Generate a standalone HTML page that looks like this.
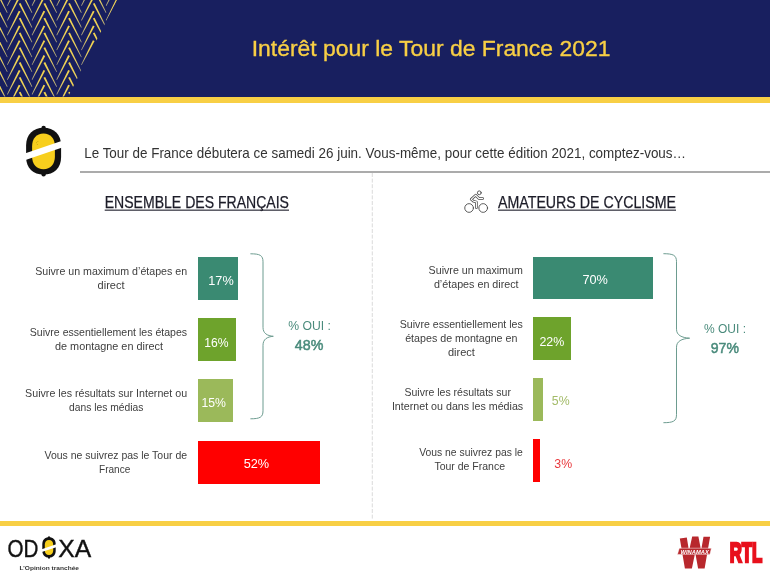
<!DOCTYPE html>
<html lang="fr">
<head>
<meta charset="utf-8">
<title>Intérêt pour le Tour de France 2021</title>
<style>
html,body{margin:0;padding:0;background:#fff;}
body{width:770px;height:576px;position:relative;overflow:hidden;font-family:"Liberation Sans",sans-serif;}
.hdr{position:absolute;left:0;top:0;width:770px;height:96.5px;background:#181f5f;}
.hline{position:absolute;left:0;top:96.5px;width:770px;height:6px;background:#f8cf45;}
.fline{position:absolute;left:0;top:520.7px;width:770px;height:5.1px;background:#f8cf45;}
.qline{position:absolute;left:80px;top:171px;width:690px;height:2px;background:#ababab;}
.bar{position:absolute;}
svg{position:absolute;left:0;top:0;}
svg text{font-family:"Liberation Sans",sans-serif;white-space:pre;}
</style>
</head>
<body>
<div class="hdr"></div>
<div class="hline"></div>
<div class="qline"></div>
<div class="fline"></div>

<!-- bars: left chart -->
<div class="bar" style="left:198px;top:256.5px;width:39.9px;height:43.2px;background:#3a8a72"></div>
<div class="bar" style="left:198px;top:318.1px;width:37.8px;height:42.9px;background:#6ea32c"></div>
<div class="bar" style="left:198px;top:379.2px;width:34.9px;height:42.7px;background:#9bb95a"></div>
<div class="bar" style="left:198px;top:440.8px;width:122.2px;height:42.9px;background:#ff0000"></div>
<!-- bars: right chart -->
<div class="bar" style="left:533.3px;top:256.7px;width:119.9px;height:42px;background:#3a8a72"></div>
<div class="bar" style="left:533.3px;top:317.3px;width:37.9px;height:42.3px;background:#6ea32c"></div>
<div class="bar" style="left:533.3px;top:378px;width:9.6px;height:42.5px;background:#9bb95a"></div>
<div class="bar" style="left:533.3px;top:439px;width:6.5px;height:42.6px;background:#ff0000"></div>

<svg width="770" height="576" viewBox="0 0 770 576">
<defs>
<clipPath id="hb"><polygon points="0,0 117,0 68.2,96.5 0,96.5"/></clipPath>
<linearGradient id="g1" x1="1" y1="0" x2="0" y2="1"><stop offset="0" stop-color="#f3d34c"/><stop offset="0.55" stop-color="#ead05c"/><stop offset="1" stop-color="#d9cc8a" stop-opacity="0.75"/></linearGradient>
<linearGradient id="g2" x1="0" y1="0" x2="1" y2="1"><stop offset="0" stop-color="#f3d34c"/><stop offset="0.55" stop-color="#ead05c"/><stop offset="1" stop-color="#d9cc8a" stop-opacity="0.75"/></linearGradient>
</defs>
<g clip-path="url(#hb)" fill="#ecd055"><polygon fill="url(#g1)" points="-30.6,-18.9 -28.9,-18.1 -41.8,5.9 -42.4,5.5"/><polygon fill="url(#g2)" points="-30.6,-11.1 -28.9,-11.9 -17.1,12.5 -17.7,12.9"/><polygon fill="url(#g1)" points="-30.6,-4.1 -28.9,-3.3 -41.8,20.7 -42.4,20.3"/><polygon fill="url(#g2)" points="-30.6,3.7 -28.9,2.9 -17.1,27.3 -17.7,27.7"/><polygon fill="url(#g1)" points="-30.6,10.7 -28.9,11.5 -41.8,35.5 -42.4,35.1"/><polygon fill="url(#g2)" points="-30.6,18.5 -28.9,17.7 -17.1,42.1 -17.7,42.5"/><polygon fill="url(#g1)" points="-30.6,25.5 -28.9,26.3 -41.8,50.3 -42.4,49.9"/><polygon fill="url(#g2)" points="-30.6,33.3 -28.9,32.5 -17.1,56.9 -17.7,57.3"/><polygon fill="url(#g1)" points="-30.6,40.3 -28.9,41.1 -41.8,65.1 -42.4,64.7"/><polygon fill="url(#g2)" points="-30.6,48.1 -28.9,47.3 -17.1,71.7 -17.7,72.1"/><polygon fill="url(#g1)" points="-30.6,55.1 -28.9,55.9 -41.8,79.9 -42.4,79.5"/><polygon fill="url(#g2)" points="-30.6,62.9 -28.9,62.1 -17.1,86.5 -17.7,86.9"/><polygon fill="url(#g1)" points="-30.6,69.9 -28.9,70.7 -41.8,94.7 -42.4,94.3"/><polygon fill="url(#g2)" points="-30.6,77.7 -28.9,76.9 -17.1,101.3 -17.7,101.7"/><polygon fill="url(#g1)" points="-30.6,84.7 -28.9,85.5 -41.8,109.5 -42.4,109.1"/><polygon fill="url(#g2)" points="-30.6,92.5 -28.9,91.7 -17.1,116.1 -17.7,116.5"/><polygon fill="url(#g1)" points="-30.6,99.5 -28.9,100.3 -41.8,124.3 -42.4,123.9"/><polygon fill="url(#g2)" points="-30.6,107.3 -28.9,106.5 -17.1,130.9 -17.7,131.3"/><polygon fill="url(#g1)" points="-30.6,114.3 -28.9,115.1 -41.8,139.1 -42.4,138.7"/><polygon fill="url(#g2)" points="-30.6,122.1 -28.9,121.3 -17.1,145.7 -17.7,146.1"/><polygon fill="url(#g1)" points="-30.6,129.1 -28.9,129.9 -41.8,153.9 -42.4,153.5"/><polygon fill="url(#g2)" points="-30.6,136.9 -28.9,136.1 -17.1,160.5 -17.7,160.9"/><polygon fill="url(#g1)" points="-30.6,143.9 -28.9,144.7 -41.8,168.7 -42.4,168.3"/><polygon fill="url(#g2)" points="-30.6,151.7 -28.9,150.9 -17.1,175.3 -17.7,175.7"/><polygon fill="url(#g1)" points="-30.6,158.7 -28.9,159.5 -41.8,183.5 -42.4,183.1"/><polygon fill="url(#g2)" points="-30.6,166.5 -28.9,165.7 -17.1,190.1 -17.7,190.5"/><polygon fill="url(#g1)" points="-5.9,-18.9 -4.2,-18.1 -17.1,5.9 -17.7,5.5"/><polygon fill="url(#g2)" points="-5.9,-11.1 -4.2,-11.9 7.6,12.5 7.0,12.9"/><polygon fill="url(#g1)" points="-5.9,-4.1 -4.2,-3.3 -17.1,20.7 -17.7,20.3"/><polygon fill="url(#g2)" points="-5.9,3.7 -4.2,2.9 7.6,27.3 7.0,27.7"/><polygon fill="url(#g1)" points="-5.9,10.7 -4.2,11.5 -17.1,35.5 -17.7,35.1"/><polygon fill="url(#g2)" points="-5.9,18.5 -4.2,17.7 7.6,42.1 7.0,42.5"/><polygon fill="url(#g1)" points="-5.9,25.5 -4.2,26.3 -17.1,50.3 -17.7,49.9"/><polygon fill="url(#g2)" points="-5.9,33.3 -4.2,32.5 7.6,56.9 7.0,57.3"/><polygon fill="url(#g1)" points="-5.9,40.3 -4.2,41.1 -17.1,65.1 -17.7,64.7"/><polygon fill="url(#g2)" points="-5.9,48.1 -4.2,47.3 7.6,71.7 7.0,72.1"/><polygon fill="url(#g1)" points="-5.9,55.1 -4.2,55.9 -17.1,79.9 -17.7,79.5"/><polygon fill="url(#g2)" points="-5.9,62.9 -4.2,62.1 7.6,86.5 7.0,86.9"/><polygon fill="url(#g1)" points="-5.9,69.9 -4.2,70.7 -17.1,94.7 -17.7,94.3"/><polygon fill="url(#g2)" points="-5.9,77.7 -4.2,76.9 7.6,101.3 7.0,101.7"/><polygon fill="url(#g1)" points="-5.9,84.7 -4.2,85.5 -17.1,109.5 -17.7,109.1"/><polygon fill="url(#g2)" points="-5.9,92.5 -4.2,91.7 7.6,116.1 7.0,116.5"/><polygon fill="url(#g1)" points="-5.9,99.5 -4.2,100.3 -17.1,124.3 -17.7,123.9"/><polygon fill="url(#g2)" points="-5.9,107.3 -4.2,106.5 7.6,130.9 7.0,131.3"/><polygon fill="url(#g1)" points="-5.9,114.3 -4.2,115.1 -17.1,139.1 -17.7,138.7"/><polygon fill="url(#g2)" points="-5.9,122.1 -4.2,121.3 7.6,145.7 7.0,146.1"/><polygon fill="url(#g1)" points="-5.9,129.1 -4.2,129.9 -17.1,153.9 -17.7,153.5"/><polygon fill="url(#g2)" points="-5.9,136.9 -4.2,136.1 7.6,160.5 7.0,160.9"/><polygon fill="url(#g1)" points="-5.9,143.9 -4.2,144.7 -17.1,168.7 -17.7,168.3"/><polygon fill="url(#g2)" points="-5.9,151.7 -4.2,150.9 7.6,175.3 7.0,175.7"/><polygon fill="url(#g1)" points="-5.9,158.7 -4.2,159.5 -17.1,183.5 -17.7,183.1"/><polygon fill="url(#g2)" points="-5.9,166.5 -4.2,165.7 7.6,190.1 7.0,190.5"/><polygon fill="url(#g1)" points="18.8,-18.9 20.5,-18.1 7.6,5.9 7.0,5.5"/><polygon fill="url(#g2)" points="18.8,-11.1 20.5,-11.9 32.3,12.5 31.7,12.9"/><polygon fill="url(#g1)" points="18.8,-4.1 20.5,-3.3 7.6,20.7 7.0,20.3"/><polygon fill="url(#g2)" points="18.8,3.7 20.5,2.9 32.3,27.3 31.7,27.7"/><polygon fill="url(#g1)" points="18.8,10.7 20.5,11.5 7.6,35.5 7.0,35.1"/><polygon fill="url(#g2)" points="18.8,18.5 20.5,17.7 32.3,42.1 31.7,42.5"/><polygon fill="url(#g1)" points="18.8,25.5 20.5,26.3 7.6,50.3 7.0,49.9"/><polygon fill="url(#g2)" points="18.8,33.3 20.5,32.5 32.3,56.9 31.7,57.3"/><polygon fill="url(#g1)" points="18.8,40.3 20.5,41.1 7.6,65.1 7.0,64.7"/><polygon fill="url(#g2)" points="18.8,48.1 20.5,47.3 32.3,71.7 31.7,72.1"/><polygon fill="url(#g1)" points="18.8,55.1 20.5,55.9 7.6,79.9 7.0,79.5"/><polygon fill="url(#g2)" points="18.8,62.9 20.5,62.1 32.3,86.5 31.7,86.9"/><polygon fill="url(#g1)" points="18.8,69.9 20.5,70.7 7.6,94.7 7.0,94.3"/><polygon fill="url(#g2)" points="18.8,77.7 20.5,76.9 32.3,101.3 31.7,101.7"/><polygon fill="url(#g1)" points="18.8,84.7 20.5,85.5 7.6,109.5 7.0,109.1"/><polygon fill="url(#g2)" points="18.8,92.5 20.5,91.7 32.3,116.1 31.7,116.5"/><polygon fill="url(#g1)" points="18.8,99.5 20.5,100.3 7.6,124.3 7.0,123.9"/><polygon fill="url(#g2)" points="18.8,107.3 20.5,106.5 32.3,130.9 31.7,131.3"/><polygon fill="url(#g1)" points="18.8,114.3 20.5,115.1 7.6,139.1 7.0,138.7"/><polygon fill="url(#g2)" points="18.8,122.1 20.5,121.3 32.3,145.7 31.7,146.1"/><polygon fill="url(#g1)" points="18.8,129.1 20.5,129.9 7.6,153.9 7.0,153.5"/><polygon fill="url(#g2)" points="18.8,136.9 20.5,136.1 32.3,160.5 31.7,160.9"/><polygon fill="url(#g1)" points="18.8,143.9 20.5,144.7 7.6,168.7 7.0,168.3"/><polygon fill="url(#g2)" points="18.8,151.7 20.5,150.9 32.3,175.3 31.7,175.7"/><polygon fill="url(#g1)" points="18.8,158.7 20.5,159.5 7.6,183.5 7.0,183.1"/><polygon fill="url(#g2)" points="18.8,166.5 20.5,165.7 32.3,190.1 31.7,190.5"/><polygon fill="url(#g1)" points="43.5,-18.9 45.2,-18.1 32.3,5.9 31.7,5.5"/><polygon fill="url(#g2)" points="43.5,-11.1 45.2,-11.9 57.0,12.5 56.4,12.9"/><polygon fill="url(#g1)" points="43.5,-4.1 45.2,-3.3 32.3,20.7 31.7,20.3"/><polygon fill="url(#g2)" points="43.5,3.7 45.2,2.9 57.0,27.3 56.4,27.7"/><polygon fill="url(#g1)" points="43.5,10.7 45.2,11.5 32.3,35.5 31.7,35.1"/><polygon fill="url(#g2)" points="43.5,18.5 45.2,17.7 57.0,42.1 56.4,42.5"/><polygon fill="url(#g1)" points="43.5,25.5 45.2,26.3 32.3,50.3 31.7,49.9"/><polygon fill="url(#g2)" points="43.5,33.3 45.2,32.5 57.0,56.9 56.4,57.3"/><polygon fill="url(#g1)" points="43.5,40.3 45.2,41.1 32.3,65.1 31.7,64.7"/><polygon fill="url(#g2)" points="43.5,48.1 45.2,47.3 57.0,71.7 56.4,72.1"/><polygon fill="url(#g1)" points="43.5,55.1 45.2,55.9 32.3,79.9 31.7,79.5"/><polygon fill="url(#g2)" points="43.5,62.9 45.2,62.1 57.0,86.5 56.4,86.9"/><polygon fill="url(#g1)" points="43.5,69.9 45.2,70.7 32.3,94.7 31.7,94.3"/><polygon fill="url(#g2)" points="43.5,77.7 45.2,76.9 57.0,101.3 56.4,101.7"/><polygon fill="url(#g1)" points="43.5,84.7 45.2,85.5 32.3,109.5 31.7,109.1"/><polygon fill="url(#g2)" points="43.5,92.5 45.2,91.7 57.0,116.1 56.4,116.5"/><polygon fill="url(#g1)" points="43.5,99.5 45.2,100.3 32.3,124.3 31.7,123.9"/><polygon fill="url(#g2)" points="43.5,107.3 45.2,106.5 57.0,130.9 56.4,131.3"/><polygon fill="url(#g1)" points="43.5,114.3 45.2,115.1 32.3,139.1 31.7,138.7"/><polygon fill="url(#g2)" points="43.5,122.1 45.2,121.3 57.0,145.7 56.4,146.1"/><polygon fill="url(#g1)" points="43.5,129.1 45.2,129.9 32.3,153.9 31.7,153.5"/><polygon fill="url(#g2)" points="43.5,136.9 45.2,136.1 57.0,160.5 56.4,160.9"/><polygon fill="url(#g1)" points="43.5,143.9 45.2,144.7 32.3,168.7 31.7,168.3"/><polygon fill="url(#g2)" points="43.5,151.7 45.2,150.9 57.0,175.3 56.4,175.7"/><polygon fill="url(#g1)" points="43.5,158.7 45.2,159.5 32.3,183.5 31.7,183.1"/><polygon fill="url(#g2)" points="43.5,166.5 45.2,165.7 57.0,190.1 56.4,190.5"/><polygon fill="url(#g1)" points="68.2,-18.9 69.9,-18.1 57.0,5.9 56.4,5.5"/><polygon fill="url(#g2)" points="68.2,-11.1 69.9,-11.9 81.7,12.5 81.1,12.9"/><polygon fill="url(#g1)" points="68.2,-4.1 69.9,-3.3 57.0,20.7 56.4,20.3"/><polygon fill="url(#g2)" points="68.2,3.7 69.9,2.9 81.7,27.3 81.1,27.7"/><polygon fill="url(#g1)" points="68.2,10.7 69.9,11.5 57.0,35.5 56.4,35.1"/><polygon fill="url(#g2)" points="68.2,18.5 69.9,17.7 81.7,42.1 81.1,42.5"/><polygon fill="url(#g1)" points="68.2,25.5 69.9,26.3 57.0,50.3 56.4,49.9"/><polygon fill="url(#g2)" points="68.2,33.3 69.9,32.5 81.7,56.9 81.1,57.3"/><polygon fill="url(#g1)" points="68.2,40.3 69.9,41.1 57.0,65.1 56.4,64.7"/><polygon fill="url(#g2)" points="68.2,48.1 69.9,47.3 81.7,71.7 81.1,72.1"/><polygon fill="url(#g1)" points="68.2,55.1 69.9,55.9 57.0,79.9 56.4,79.5"/><polygon fill="url(#g2)" points="68.2,62.9 69.9,62.1 81.7,86.5 81.1,86.9"/><polygon fill="url(#g1)" points="68.2,69.9 69.9,70.7 57.0,94.7 56.4,94.3"/><polygon fill="url(#g2)" points="68.2,77.7 69.9,76.9 81.7,101.3 81.1,101.7"/><polygon fill="url(#g1)" points="68.2,84.7 69.9,85.5 57.0,109.5 56.4,109.1"/><polygon fill="url(#g2)" points="68.2,92.5 69.9,91.7 81.7,116.1 81.1,116.5"/><polygon fill="url(#g1)" points="68.2,99.5 69.9,100.3 57.0,124.3 56.4,123.9"/><polygon fill="url(#g2)" points="68.2,107.3 69.9,106.5 81.7,130.9 81.1,131.3"/><polygon fill="url(#g1)" points="68.2,114.3 69.9,115.1 57.0,139.1 56.4,138.7"/><polygon fill="url(#g2)" points="68.2,122.1 69.9,121.3 81.7,145.7 81.1,146.1"/><polygon fill="url(#g1)" points="68.2,129.1 69.9,129.9 57.0,153.9 56.4,153.5"/><polygon fill="url(#g2)" points="68.2,136.9 69.9,136.1 81.7,160.5 81.1,160.9"/><polygon fill="url(#g1)" points="68.2,143.9 69.9,144.7 57.0,168.7 56.4,168.3"/><polygon fill="url(#g2)" points="68.2,151.7 69.9,150.9 81.7,175.3 81.1,175.7"/><polygon fill="url(#g1)" points="68.2,158.7 69.9,159.5 57.0,183.5 56.4,183.1"/><polygon fill="url(#g2)" points="68.2,166.5 69.9,165.7 81.7,190.1 81.1,190.5"/><polygon fill="url(#g1)" points="92.9,-18.9 94.6,-18.1 81.7,5.9 81.1,5.5"/><polygon fill="url(#g2)" points="92.9,-11.1 94.6,-11.9 106.4,12.5 105.8,12.9"/><polygon fill="url(#g1)" points="92.9,-4.1 94.6,-3.3 81.7,20.7 81.1,20.3"/><polygon fill="url(#g2)" points="92.9,3.7 94.6,2.9 106.4,27.3 105.8,27.7"/><polygon fill="url(#g1)" points="92.9,10.7 94.6,11.5 81.7,35.5 81.1,35.1"/><polygon fill="url(#g2)" points="92.9,18.5 94.6,17.7 106.4,42.1 105.8,42.5"/><polygon fill="url(#g1)" points="92.9,25.5 94.6,26.3 81.7,50.3 81.1,49.9"/><polygon fill="url(#g2)" points="92.9,33.3 94.6,32.5 106.4,56.9 105.8,57.3"/><polygon fill="url(#g1)" points="92.9,40.3 94.6,41.1 81.7,65.1 81.1,64.7"/><polygon fill="url(#g2)" points="92.9,48.1 94.6,47.3 106.4,71.7 105.8,72.1"/><polygon fill="url(#g1)" points="92.9,55.1 94.6,55.9 81.7,79.9 81.1,79.5"/><polygon fill="url(#g2)" points="92.9,62.9 94.6,62.1 106.4,86.5 105.8,86.9"/><polygon fill="url(#g1)" points="92.9,69.9 94.6,70.7 81.7,94.7 81.1,94.3"/><polygon fill="url(#g2)" points="92.9,77.7 94.6,76.9 106.4,101.3 105.8,101.7"/><polygon fill="url(#g1)" points="92.9,84.7 94.6,85.5 81.7,109.5 81.1,109.1"/><polygon fill="url(#g2)" points="92.9,92.5 94.6,91.7 106.4,116.1 105.8,116.5"/><polygon fill="url(#g1)" points="92.9,99.5 94.6,100.3 81.7,124.3 81.1,123.9"/><polygon fill="url(#g2)" points="92.9,107.3 94.6,106.5 106.4,130.9 105.8,131.3"/><polygon fill="url(#g1)" points="92.9,114.3 94.6,115.1 81.7,139.1 81.1,138.7"/><polygon fill="url(#g2)" points="92.9,122.1 94.6,121.3 106.4,145.7 105.8,146.1"/><polygon fill="url(#g1)" points="92.9,129.1 94.6,129.9 81.7,153.9 81.1,153.5"/><polygon fill="url(#g2)" points="92.9,136.9 94.6,136.1 106.4,160.5 105.8,160.9"/><polygon fill="url(#g1)" points="92.9,143.9 94.6,144.7 81.7,168.7 81.1,168.3"/><polygon fill="url(#g2)" points="92.9,151.7 94.6,150.9 106.4,175.3 105.8,175.7"/><polygon fill="url(#g1)" points="92.9,158.7 94.6,159.5 81.7,183.5 81.1,183.1"/><polygon fill="url(#g2)" points="92.9,166.5 94.6,165.7 106.4,190.1 105.8,190.5"/><polygon fill="url(#g1)" points="117.6,-18.9 119.3,-18.1 106.4,5.9 105.8,5.5"/><polygon fill="url(#g2)" points="117.6,-11.1 119.3,-11.9 131.1,12.5 130.5,12.9"/><polygon fill="url(#g1)" points="117.6,-4.1 119.3,-3.3 106.4,20.7 105.8,20.3"/><polygon fill="url(#g2)" points="117.6,3.7 119.3,2.9 131.1,27.3 130.5,27.7"/><polygon fill="url(#g1)" points="117.6,10.7 119.3,11.5 106.4,35.5 105.8,35.1"/><polygon fill="url(#g2)" points="117.6,18.5 119.3,17.7 131.1,42.1 130.5,42.5"/><polygon fill="url(#g1)" points="117.6,25.5 119.3,26.3 106.4,50.3 105.8,49.9"/><polygon fill="url(#g2)" points="117.6,33.3 119.3,32.5 131.1,56.9 130.5,57.3"/><polygon fill="url(#g1)" points="117.6,40.3 119.3,41.1 106.4,65.1 105.8,64.7"/><polygon fill="url(#g2)" points="117.6,48.1 119.3,47.3 131.1,71.7 130.5,72.1"/><polygon fill="url(#g1)" points="117.6,55.1 119.3,55.9 106.4,79.9 105.8,79.5"/><polygon fill="url(#g2)" points="117.6,62.9 119.3,62.1 131.1,86.5 130.5,86.9"/><polygon fill="url(#g1)" points="117.6,69.9 119.3,70.7 106.4,94.7 105.8,94.3"/><polygon fill="url(#g2)" points="117.6,77.7 119.3,76.9 131.1,101.3 130.5,101.7"/><polygon fill="url(#g1)" points="117.6,84.7 119.3,85.5 106.4,109.5 105.8,109.1"/><polygon fill="url(#g2)" points="117.6,92.5 119.3,91.7 131.1,116.1 130.5,116.5"/><polygon fill="url(#g1)" points="117.6,99.5 119.3,100.3 106.4,124.3 105.8,123.9"/><polygon fill="url(#g2)" points="117.6,107.3 119.3,106.5 131.1,130.9 130.5,131.3"/><polygon fill="url(#g1)" points="117.6,114.3 119.3,115.1 106.4,139.1 105.8,138.7"/><polygon fill="url(#g2)" points="117.6,122.1 119.3,121.3 131.1,145.7 130.5,146.1"/><polygon fill="url(#g1)" points="117.6,129.1 119.3,129.9 106.4,153.9 105.8,153.5"/><polygon fill="url(#g2)" points="117.6,136.9 119.3,136.1 131.1,160.5 130.5,160.9"/><polygon fill="url(#g1)" points="117.6,143.9 119.3,144.7 106.4,168.7 105.8,168.3"/><polygon fill="url(#g2)" points="117.6,151.7 119.3,150.9 131.1,175.3 130.5,175.7"/><polygon fill="url(#g1)" points="117.6,158.7 119.3,159.5 106.4,183.5 105.8,183.1"/><polygon fill="url(#g2)" points="117.6,166.5 119.3,165.7 131.1,190.1 130.5,190.5"/><polygon fill="url(#g1)" points="142.3,-18.9 144.0,-18.1 131.1,5.9 130.5,5.5"/><polygon fill="url(#g2)" points="142.3,-11.1 144.0,-11.9 155.8,12.5 155.2,12.9"/><polygon fill="url(#g1)" points="142.3,-4.1 144.0,-3.3 131.1,20.7 130.5,20.3"/><polygon fill="url(#g2)" points="142.3,3.7 144.0,2.9 155.8,27.3 155.2,27.7"/><polygon fill="url(#g1)" points="142.3,10.7 144.0,11.5 131.1,35.5 130.5,35.1"/><polygon fill="url(#g2)" points="142.3,18.5 144.0,17.7 155.8,42.1 155.2,42.5"/><polygon fill="url(#g1)" points="142.3,25.5 144.0,26.3 131.1,50.3 130.5,49.9"/><polygon fill="url(#g2)" points="142.3,33.3 144.0,32.5 155.8,56.9 155.2,57.3"/><polygon fill="url(#g1)" points="142.3,40.3 144.0,41.1 131.1,65.1 130.5,64.7"/><polygon fill="url(#g2)" points="142.3,48.1 144.0,47.3 155.8,71.7 155.2,72.1"/><polygon fill="url(#g1)" points="142.3,55.1 144.0,55.9 131.1,79.9 130.5,79.5"/><polygon fill="url(#g2)" points="142.3,62.9 144.0,62.1 155.8,86.5 155.2,86.9"/><polygon fill="url(#g1)" points="142.3,69.9 144.0,70.7 131.1,94.7 130.5,94.3"/><polygon fill="url(#g2)" points="142.3,77.7 144.0,76.9 155.8,101.3 155.2,101.7"/><polygon fill="url(#g1)" points="142.3,84.7 144.0,85.5 131.1,109.5 130.5,109.1"/><polygon fill="url(#g2)" points="142.3,92.5 144.0,91.7 155.8,116.1 155.2,116.5"/><polygon fill="url(#g1)" points="142.3,99.5 144.0,100.3 131.1,124.3 130.5,123.9"/><polygon fill="url(#g2)" points="142.3,107.3 144.0,106.5 155.8,130.9 155.2,131.3"/><polygon fill="url(#g1)" points="142.3,114.3 144.0,115.1 131.1,139.1 130.5,138.7"/><polygon fill="url(#g2)" points="142.3,122.1 144.0,121.3 155.8,145.7 155.2,146.1"/><polygon fill="url(#g1)" points="142.3,129.1 144.0,129.9 131.1,153.9 130.5,153.5"/><polygon fill="url(#g2)" points="142.3,136.9 144.0,136.1 155.8,160.5 155.2,160.9"/><polygon fill="url(#g1)" points="142.3,143.9 144.0,144.7 131.1,168.7 130.5,168.3"/><polygon fill="url(#g2)" points="142.3,151.7 144.0,150.9 155.8,175.3 155.2,175.7"/><polygon fill="url(#g1)" points="142.3,158.7 144.0,159.5 131.1,183.5 130.5,183.1"/><polygon fill="url(#g2)" points="142.3,166.5 144.0,165.7 155.8,190.1 155.2,190.5"/><polygon fill="url(#g1)" points="167.0,-18.9 168.7,-18.1 155.8,5.9 155.2,5.5"/><polygon fill="url(#g2)" points="167.0,-11.1 168.7,-11.9 180.5,12.5 179.9,12.9"/><polygon fill="url(#g1)" points="167.0,-4.1 168.7,-3.3 155.8,20.7 155.2,20.3"/><polygon fill="url(#g2)" points="167.0,3.7 168.7,2.9 180.5,27.3 179.9,27.7"/><polygon fill="url(#g1)" points="167.0,10.7 168.7,11.5 155.8,35.5 155.2,35.1"/><polygon fill="url(#g2)" points="167.0,18.5 168.7,17.7 180.5,42.1 179.9,42.5"/><polygon fill="url(#g1)" points="167.0,25.5 168.7,26.3 155.8,50.3 155.2,49.9"/><polygon fill="url(#g2)" points="167.0,33.3 168.7,32.5 180.5,56.9 179.9,57.3"/><polygon fill="url(#g1)" points="167.0,40.3 168.7,41.1 155.8,65.1 155.2,64.7"/><polygon fill="url(#g2)" points="167.0,48.1 168.7,47.3 180.5,71.7 179.9,72.1"/><polygon fill="url(#g1)" points="167.0,55.1 168.7,55.9 155.8,79.9 155.2,79.5"/><polygon fill="url(#g2)" points="167.0,62.9 168.7,62.1 180.5,86.5 179.9,86.9"/><polygon fill="url(#g1)" points="167.0,69.9 168.7,70.7 155.8,94.7 155.2,94.3"/><polygon fill="url(#g2)" points="167.0,77.7 168.7,76.9 180.5,101.3 179.9,101.7"/><polygon fill="url(#g1)" points="167.0,84.7 168.7,85.5 155.8,109.5 155.2,109.1"/><polygon fill="url(#g2)" points="167.0,92.5 168.7,91.7 180.5,116.1 179.9,116.5"/><polygon fill="url(#g1)" points="167.0,99.5 168.7,100.3 155.8,124.3 155.2,123.9"/><polygon fill="url(#g2)" points="167.0,107.3 168.7,106.5 180.5,130.9 179.9,131.3"/><polygon fill="url(#g1)" points="167.0,114.3 168.7,115.1 155.8,139.1 155.2,138.7"/><polygon fill="url(#g2)" points="167.0,122.1 168.7,121.3 180.5,145.7 179.9,146.1"/><polygon fill="url(#g1)" points="167.0,129.1 168.7,129.9 155.8,153.9 155.2,153.5"/><polygon fill="url(#g2)" points="167.0,136.9 168.7,136.1 180.5,160.5 179.9,160.9"/><polygon fill="url(#g1)" points="167.0,143.9 168.7,144.7 155.8,168.7 155.2,168.3"/><polygon fill="url(#g2)" points="167.0,151.7 168.7,150.9 180.5,175.3 179.9,175.7"/><polygon fill="url(#g1)" points="167.0,158.7 168.7,159.5 155.8,183.5 155.2,183.1"/><polygon fill="url(#g2)" points="167.0,166.5 168.7,165.7 180.5,190.1 179.9,190.5"/></g>

<line x1="372.3" y1="173" x2="372.3" y2="520" stroke="#d2d2d2" stroke-width="0.8" stroke-dasharray="4 1.6"/>

<!-- lemon icon -->
<g id="lemon">
<rect x="41.4" y="125.8" width="4.4" height="50.6" rx="2.2" fill="#111"/>
<path d="M43.600,127.800 C54,127.800 61.100,134.500 61.100,145.500 V157 C61.100,168 54,174.600 43.600,174.600 C33.200,174.600 26.100,168 26.100,157 V145.500 C26.100,134.500 33.200,127.800 43.600,127.800 Z" fill="#111"/>
<path d="M43.500,133.600 C50.500,133.600 54.900,138.500 54.900,146.500 V156.500 C54.900,164.500 50.500,169.200 43.500,169.200 C36.500,169.200 32.100,164.500 32.100,156.500 V146.500 C32.100,138.500 36.500,133.600 43.500,133.600 Z" fill="#f7cf1d"/>
<polygon points="24,153.700 63,140.500 63,147.300 24,160.500" fill="#fff"/>
<circle cx="36.600" cy="142.800" r="0.45" fill="#a88a10"/><circle cx="37.900" cy="141.500" r="0.45" fill="#a88a10"/><circle cx="37.300" cy="144.500" r="0.45" fill="#a88a10"/>
</g>

<!-- bicycle icon -->
<g fill="none" stroke-linecap="round" stroke-linejoin="round">
<circle cx="469.100" cy="208" r="4.350" stroke="#4a4a4a" stroke-width="0.9"/><circle cx="483.200" cy="208" r="4.350" stroke="#4a4a4a" stroke-width="0.9"/>
<circle cx="479.300" cy="192.800" r="1.900" stroke="#4a4a4a" stroke-width="0.9" fill="#fff"/>
<path d="M475.700,195.200 L471.200,199.300 L473.400,201.200 L476.400,201.900 L476.400,207.700 M475.900,195.500 L479,198.500 L482.700,198.500" stroke="#4a4a4a" stroke-width="2.600"/>
<path d="M475.700,195.200 L471.200,199.300 L473.400,201.200 L476.400,201.900 L476.400,207.700 M475.900,195.500 L479,198.500 L482.700,198.500" stroke="#fff" stroke-width="1.100"/>
</g>

<!-- heading underlines -->
<rect x="104.7" y="209.6" width="184.3" height="1.1" fill="#1c1c28"/>
<rect x="498" y="209.6" width="178" height="1.1" fill="#1c1c28"/>

<!-- braces -->
<path d="M250.4,253.8 C259.9,253.8 263.0,255.3 263.0,261.8 L263.0,327.3 C263.0,333.3 267.1,335.8 273.3,336.3 C267.1,336.8 263.0,339.3 263.0,345.3 L263.0,410.8 C263.0,417.3 259.9,418.8 250.4,418.8" fill="none" stroke="#6d9c90" stroke-width="1"/>
<path d="M663.4,253.7 C673.2,253.7 676.5,255.2 676.5,261.7 L676.5,329.2 C676.5,335.2 681.7,337.7 689.6,338.2 C681.7,338.7 676.5,341.2 676.5,347.2 L676.5,414.7 C676.5,421.2 673.2,422.7 663.4,422.7" fill="none" stroke="#6d9c90" stroke-width="1"/>

<!-- odoxa lemon -->
<g>
<rect x="48" y="536.300" width="2" height="22.400" rx="1" fill="#111"/>
<path d="M49,537.300 C53.200,537.300 55.700,540 55.700,544.200 V550.800 C55.700,555 53.200,557.700 49,557.700 C44.800,557.700 42.300,555 42.300,550.800 V544.200 C42.300,540 44.800,537.300 49,537.300 Z" fill="#111"/>
<path d="M49,540 C51.700,540 53.200,541.800 53.200,544.800 V550.200 C53.200,553.200 51.700,555 49,555 C46.300,555 44.800,553.200 44.800,550.200 V544.800 C44.800,541.800 46.300,540 49,540 Z" fill="#f7cf1d"/>
<polygon points="41,549.500 57,544.100 57,546.900 41,552.300" fill="#fff"/>
</g>

<!-- winamax logo -->
<g>
<polygon points="679.800,538.400 686.800,537.600 689,550.900 692.200,536.400 698.400,536.400 701.100,550.500 703.500,536.700 710.100,536.700 704.600,568.500 698.100,568.500 695.200,552.400 691.900,568.500 684.900,568.500" fill="#b8282d"/>
<polygon points="679.300,548.200 711.400,548.200 709.900,554.400 677.400,554.400" fill="#b8282d" stroke="#fff" stroke-width="0.5"/>
</g>

<text x="251.7" y="56.0" font-size="22.2" fill="#f8cf45" font-weight="normal" textLength="358.7" lengthAdjust="spacingAndGlyphs" stroke="#f8cf45" stroke-width="0.35">Intérêt pour le Tour de France 2021</text>
<text x="84.2" y="158.0" font-size="14.4" fill="#333333" font-weight="normal" textLength="601.8" lengthAdjust="spacingAndGlyphs">Le Tour de France débutera ce samedi 26 juin. Vous-même, pour cette édition 2021, comptez-vous…</text>
<text x="104.7" y="208.0" font-size="16.2" fill="#1c1c28" font-weight="normal" textLength="184.3" lengthAdjust="spacingAndGlyphs" stroke="#1c1c28" stroke-width="0.25">ENSEMBLE DES FRANÇAIS</text>
<text x="498.0" y="208.0" font-size="16.2" fill="#1c1c28" font-weight="normal" textLength="178.0" lengthAdjust="spacingAndGlyphs" stroke="#1c1c28" stroke-width="0.25">AMATEURS DE CYCLISME</text>
<text x="35.2" y="275.0" font-size="10.1" fill="#404040" font-weight="normal" textLength="151.9" lengthAdjust="spacingAndGlyphs">Suivre un maximum d’étapes en</text>
<text x="97.6" y="288.6" font-size="10.1" fill="#404040" font-weight="normal" textLength="26.9" lengthAdjust="spacingAndGlyphs">direct</text>
<text x="29.8" y="335.8" font-size="10.1" fill="#404040" font-weight="normal" textLength="157.3" lengthAdjust="spacingAndGlyphs">Suivre essentiellement les étapes</text>
<text x="55.0" y="350.0" font-size="10.1" fill="#404040" font-weight="normal" textLength="108.0" lengthAdjust="spacingAndGlyphs">de montagne en direct</text>
<text x="25.1" y="396.9" font-size="10.1" fill="#404040" font-weight="normal" textLength="162.0" lengthAdjust="spacingAndGlyphs">Suivre les résultats sur Internet ou</text>
<text x="69.1" y="411.1" font-size="10.1" fill="#404040" font-weight="normal" textLength="74.3" lengthAdjust="spacingAndGlyphs">dans les médias</text>
<text x="44.5" y="458.8" font-size="10.1" fill="#404040" font-weight="normal" textLength="142.6" lengthAdjust="spacingAndGlyphs">Vous ne suivrez pas le Tour de</text>
<text x="99.0" y="472.9" font-size="10.1" fill="#404040" font-weight="normal" textLength="31.3" lengthAdjust="spacingAndGlyphs">France</text>
<text x="428.6" y="273.8" font-size="10.1" fill="#404040" font-weight="normal" textLength="94.2" lengthAdjust="spacingAndGlyphs">Suivre un maximum</text>
<text x="433.9" y="288.1" font-size="10.1" fill="#404040" font-weight="normal" textLength="84.7" lengthAdjust="spacingAndGlyphs">d’étapes en direct</text>
<text x="399.8" y="327.6" font-size="10.1" fill="#404040" font-weight="normal" textLength="123.0" lengthAdjust="spacingAndGlyphs">Suivre essentiellement les</text>
<text x="405.2" y="341.9" font-size="10.1" fill="#404040" font-weight="normal" textLength="112.2" lengthAdjust="spacingAndGlyphs">étapes de montagne en</text>
<text x="448.0" y="355.9" font-size="10.1" fill="#404040" font-weight="normal" textLength="26.9" lengthAdjust="spacingAndGlyphs">direct</text>
<text x="404.5" y="395.7" font-size="10.1" fill="#404040" font-weight="normal" textLength="106.4" lengthAdjust="spacingAndGlyphs">Suivre les résultats sur</text>
<text x="391.9" y="409.7" font-size="10.1" fill="#404040" font-weight="normal" textLength="131.3" lengthAdjust="spacingAndGlyphs">Internet ou dans les médias</text>
<text x="419.2" y="456.0" font-size="10.1" fill="#404040" font-weight="normal" textLength="103.6" lengthAdjust="spacingAndGlyphs">Vous ne suivrez pas le</text>
<text x="434.4" y="470.0" font-size="10.1" fill="#404040" font-weight="normal" textLength="70.6" lengthAdjust="spacingAndGlyphs">Tour de France</text>
<text x="208.3" y="284.6" font-size="12.8" fill="#ffffff" font-weight="normal" textLength="25.4" lengthAdjust="spacingAndGlyphs">17%</text>
<text x="204.2" y="346.5" font-size="12.8" fill="#ffffff" font-weight="normal" textLength="24.3" lengthAdjust="spacingAndGlyphs">16%</text>
<text x="201.5" y="407.3" font-size="12.8" fill="#ffffff" font-weight="normal" textLength="24.5" lengthAdjust="spacingAndGlyphs">15%</text>
<text x="243.7" y="467.5" font-size="12.8" fill="#ffffff" font-weight="normal" textLength="25.5" lengthAdjust="spacingAndGlyphs">52%</text>
<text x="582.4" y="284.0" font-size="12.8" fill="#ffffff" font-weight="normal" textLength="25.5" lengthAdjust="spacingAndGlyphs">70%</text>
<text x="539.4" y="346.3" font-size="12.8" fill="#ffffff" font-weight="normal" textLength="24.9" lengthAdjust="spacingAndGlyphs">22%</text>
<text x="551.8" y="404.9" font-size="12.8" fill="#a3bb68" font-weight="normal" textLength="17.8" lengthAdjust="spacingAndGlyphs">5%</text>
<text x="554.3" y="467.9" font-size="12.8" fill="#e8383c" font-weight="normal" textLength="17.8" lengthAdjust="spacingAndGlyphs">3%</text>
<text x="288.3" y="330.4" font-size="12.6" fill="#4a8b7c" font-weight="normal" textLength="42.7" lengthAdjust="spacingAndGlyphs">% OUI :</text>
<text x="294.8" y="349.8" font-size="14.4" fill="#4a8b7c" font-weight="normal" textLength="28.5" lengthAdjust="spacingAndGlyphs" stroke="#4a8b7c" stroke-width="0.5">48%</text>
<text x="703.9" y="333.2" font-size="12.6" fill="#4a8b7c" font-weight="normal" textLength="42.1" lengthAdjust="spacingAndGlyphs">% OUI :</text>
<text x="710.8" y="352.9" font-size="14.4" fill="#4a8b7c" font-weight="normal" textLength="28.1" lengthAdjust="spacingAndGlyphs" stroke="#4a8b7c" stroke-width="0.5">97%</text>
<text x="7.6" y="556.5" font-size="24" fill="#111111" font-weight="normal" textLength="30.9" lengthAdjust="spacingAndGlyphs" stroke="#111" stroke-width="0.4">OD</text>
<text x="58.3" y="556.5" font-size="24" fill="#111111" font-weight="normal" textLength="32.9" lengthAdjust="spacingAndGlyphs" stroke="#111" stroke-width="0.4">XA</text>
<text x="19.4" y="569.6" font-size="5.6" fill="#333333" font-weight="bold" textLength="59.6" lengthAdjust="spacingAndGlyphs">L’Opinion tranchée</text>
<text x="729.7" y="561.8" font-size="27.2" fill="#e8101c" font-weight="bold" textLength="32.7" lengthAdjust="spacingAndGlyphs" stroke="#e8101c" stroke-width="2.5" stroke-linejoin="miter">RTL</text>
<text x="680.5" y="553.6" font-size="6.1" fill="#ffffff" font-weight="bold" textLength="28.3" lengthAdjust="spacingAndGlyphs" font-style="italic">WINAMAX</text>
</svg>
</body>
</html>
